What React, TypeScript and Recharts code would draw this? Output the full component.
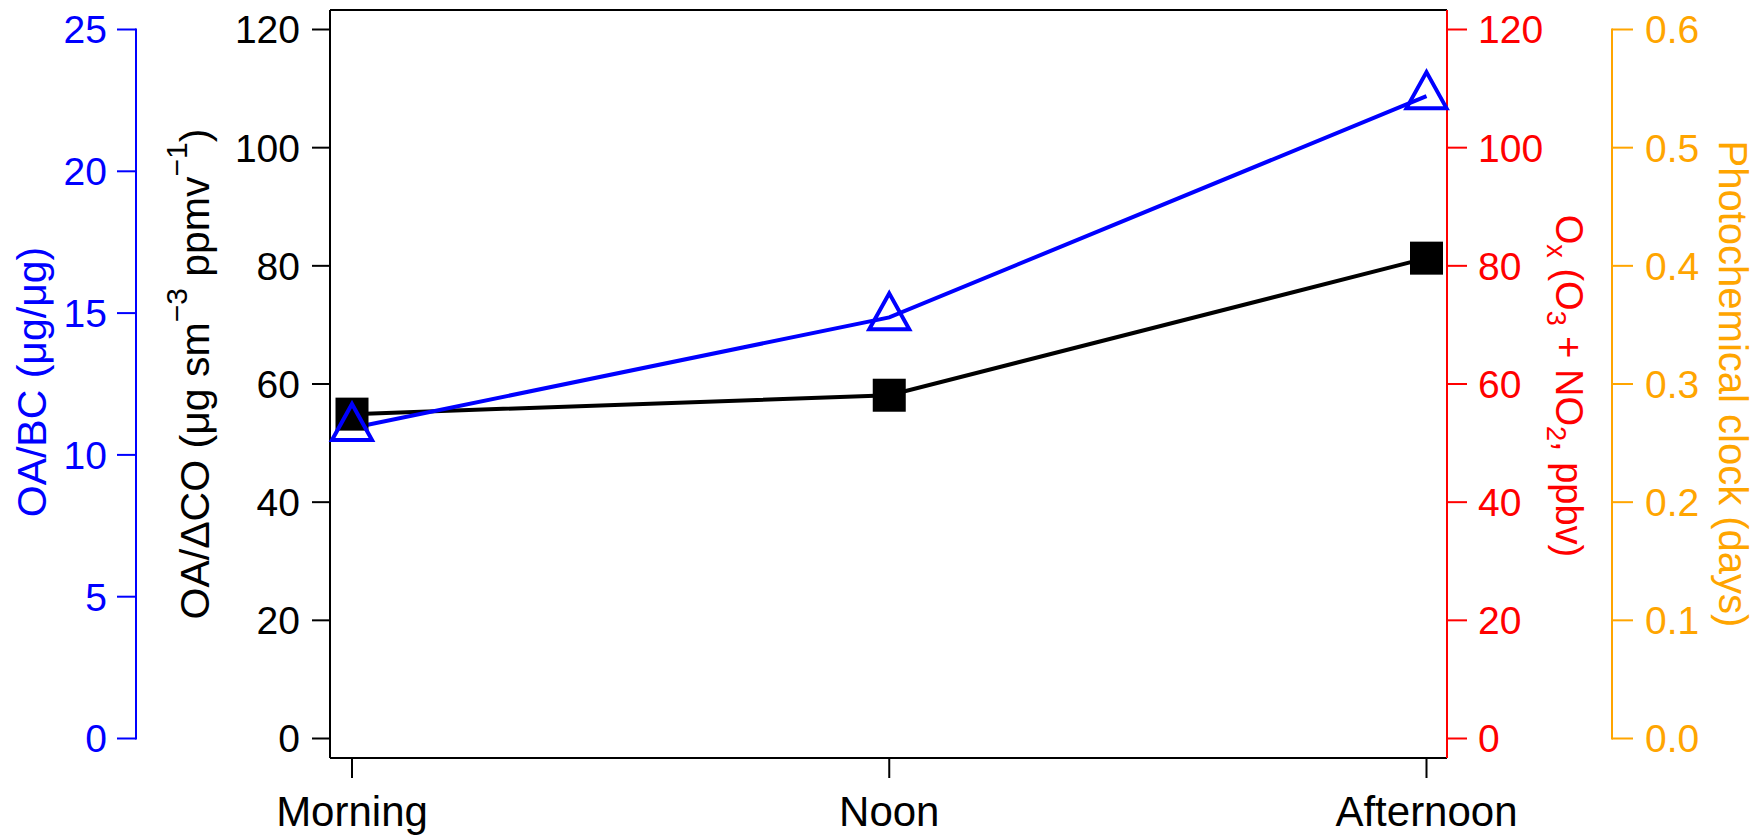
import React from 'react';
import { LineChart, Line, XAxis, YAxis } from 'recharts';

// ---- data ----
const categories = ['Morning', 'Noon', 'Afternoon'];
const oaDeltaCO = [54.9, 58.1, 81.3];      // left black axis (µg sm^-3 ppmv^-1)
const oaBC = [10.95, 14.85, 22.65];        // blue axis (µg/µg)
const leftTicks = [0, 20, 40, 60, 80, 100, 120];
const blueTicks = [0, 5, 10, 15, 20, 25];
const oxTicks = [0, 20, 40, 60, 80, 100, 120];
const clockTicks = [0, 0.1, 0.2, 0.3, 0.4, 0.5, 0.6];

const data = categories.map((c, i) => ({ cat: c, oaco: oaDeltaCO[i], oabc: oaBC[i] }));

// ---- style ----
const FONT = "'Liberation Sans', Arial, Helvetica, sans-serif";
const BLUE = '#0000ff';
const RED = '#ff0000';
const ORANGE = '#ffa500';
const BLACK = '#000000';
const W = 1759;
const H = 836;
const TOP_H = 10;
const X_H = 78;
const YPAD = 19.5;
const INNER = H - TOP_H - X_H - 2 * YPAD;
const TICK_FS = 39;

function SegTick(props: any) {
  const { x, y, payload, color, side, off, step, maxV, fmt } = props;
  const axisX = side === 'left' ? x + off : x - off;
  const v = payload.value;
  const label = fmt ? fmt(v) : String(v);
  return (
    <g>
      {v < maxV - 1e-9 ? (
        <line x1={axisX} y1={y + 1} x2={axisX} y2={y - step - 1} stroke={color} strokeWidth={2} />
      ) : null}
      <text
        x={x}
        y={y}
        dy="0.355em"
        textAnchor={side === 'left' ? 'end' : 'start'}
        fill={color}
        fontSize={TICK_FS}
        fontFamily={FONT}
      >
        {label}
      </text>
    </g>
  );
}

function BlackTitle(props: any) {
  const vb = props.viewBox;
  const cx = vb.x + 73;
  const cy = vb.y + vb.height / 2 - 10;
  return (
    <text x={cx} y={cy} transform={`rotate(-90, ${cx}, ${cy})`} textAnchor="middle" fontSize={41} fill={BLACK} fontFamily={FONT}>
      OA/ΔCO (μg sm<tspan dy={-22} fontSize={30}>−3</tspan>
      <tspan dy={22}> ppmv</tspan>
      <tspan dy={-22} fontSize={30}>−1</tspan>
      <tspan dy={22}>)</tspan>
    </text>
  );
}

function BlueTitle(props: any) {
  const vb = props.viewBox;
  const cx = vb.x + 46;
  const cy = vb.y + vb.height / 2 - 2;
  return (
    <text x={cx} y={cy} transform={`rotate(-90, ${cx}, ${cy})`} textAnchor="middle" fontSize={41} fill={BLUE} fontFamily={FONT}>
      OA/BC (μg/μg)
    </text>
  );
}

function RedTitle(props: any) {
  const vb = props.viewBox;
  const cx = vb.x + 109;
  const cy = vb.y + vb.height / 2 + 2;
  return (
    <text x={cx} y={cy} transform={`rotate(90, ${cx}, ${cy})`} textAnchor="middle" fontSize={38} fill={RED} fontFamily={FONT}>
      O<tspan dy={9} fontSize={27}>x</tspan>
      <tspan dy={-9}> (O</tspan>
      <tspan dy={9} fontSize={27}>3</tspan>
      <tspan dy={-9}> + NO</tspan>
      <tspan dy={9} fontSize={27}>2</tspan>
      <tspan dy={-9}>, ppbv)</tspan>
    </text>
  );
}

function OrangeTitle(props: any) {
  const vb = props.viewBox;
  const cx = vb.x + 107;
  const cy = vb.y + vb.height / 2;
  return (
    <text x={cx} y={cy} transform={`rotate(90, ${cx}, ${cy})`} textAnchor="middle" fontSize={40} fill={ORANGE} fontFamily={FONT}>
      Photochemical clock (days)
    </text>
  );
}

function SquareDot(p: any) {
  if (p.cx == null || p.cy == null) return <g key={`sq-${p.index}`} />;
  return <rect key={`sq-${p.index}`} x={p.cx - 16.5} y={p.cy - 16.5} width={33} height={33} fill={BLACK} />;
}

function TriangleDot(p: any) {
  if (p.cx == null || p.cy == null) return <g key={`tr-${p.index}`} />;
  const { cx, cy } = p;
  return (
    <path
      key={`tr-${p.index}`}
      d={`M${cx},${cy - 24} L${cx + 20},${cy + 12} L${cx - 20},${cy + 12} Z`}
      fill="none"
      stroke={BLUE}
      strokeWidth={4}
      strokeLinejoin="miter"
    />
  );
}

export default function App() {
  return (
    <div style={{ position: 'absolute', left: 0, top: 0, width: W, height: H, background: '#fff' }}>
      <LineChart width={W} height={H} data={data} margin={{ top: 0, right: 0, bottom: 0, left: 0 }}>
        <XAxis
          xAxisId="top"
          dataKey="cat"
          orientation="top"
          height={TOP_H}
          tick={false}
          tickLine={false}
          axisLine={{ stroke: BLACK, strokeWidth: 2 }}
          padding={{ left: 22, right: 20.5 }}
        />
        <XAxis
          dataKey="cat"
          height={X_H}
          tickSize={20}
          tickMargin={18}
          axisLine={{ stroke: BLACK, strokeWidth: 2 }}
          tickLine={{ stroke: BLACK, strokeWidth: 2 }}
          tick={{ fill: BLACK, fontSize: 42, fontFamily: FONT }}
          padding={{ left: 22, right: 20.5 }}
        />
        <YAxis
          yAxisId="b_blue"
          orientation="left"
          width={136}
          domain={[0, 25]}
          ticks={blueTicks}
          interval={0}
          padding={{ top: YPAD, bottom: YPAD }}
          tickSize={19}
          tickMargin={10}
          axisLine={false}
          tickLine={{ stroke: BLUE, strokeWidth: 2 }}
          tick={<SegTick color={BLUE} side="left" off={29} step={INNER / 5} maxV={25} />}
          label={<BlueTitle />}
        />
        <YAxis
          yAxisId="a_black"
          orientation="left"
          width={194}
          domain={[0, 120]}
          ticks={leftTicks}
          interval={0}
          padding={{ top: YPAD, bottom: YPAD }}
          tickSize={18}
          tickMargin={12}
          axisLine={{ stroke: BLACK, strokeWidth: 2 }}
          tickLine={{ stroke: BLACK, strokeWidth: 2 }}
          tick={{ fill: BLACK, fontSize: TICK_FS, fontFamily: FONT }}
          label={<BlackTitle />}
        />
        <YAxis
          yAxisId="b_orange"
          orientation="right"
          width={147}
          domain={[0, 0.6]}
          allowDataOverflow
          ticks={clockTicks}
          interval={0}
          padding={{ top: YPAD, bottom: YPAD }}
          tickSize={21}
          tickMargin={12}
          axisLine={false}
          tickLine={{ stroke: ORANGE, strokeWidth: 2 }}
          tick={<SegTick color={ORANGE} side="right" off={33} step={INNER / 6} maxV={0.6} fmt={(v: number) => v.toFixed(1)} />}
          label={<OrangeTitle />}
        />
        <YAxis
          yAxisId="a_red"
          orientation="right"
          width={165}
          domain={[0, 120]}
          allowDataOverflow
          ticks={oxTicks}
          interval={0}
          padding={{ top: YPAD, bottom: YPAD }}
          tickSize={20}
          tickMargin={11}
          axisLine={{ stroke: RED, strokeWidth: 2 }}
          tickLine={{ stroke: RED, strokeWidth: 2 }}
          tick={{ fill: RED, fontSize: TICK_FS, fontFamily: FONT }}
          label={<RedTitle />}
        />
        <Line yAxisId="b_orange" dataKey="clockNone" stroke="none" dot={false} activeDot={false} legendType="none" isAnimationActive={false} />
        <Line yAxisId="a_red" dataKey="oxNone" stroke="none" dot={false} activeDot={false} legendType="none" isAnimationActive={false} />
        <Line
          yAxisId="a_black"
          type="linear"
          dataKey="oaco"
          stroke={BLACK}
          strokeWidth={4}
          dot={SquareDot}
          activeDot={false}
          isAnimationActive={false}
        />
        <Line
          yAxisId="b_blue"
          type="linear"
          dataKey="oabc"
          stroke={BLUE}
          strokeWidth={4}
          dot={TriangleDot}
          activeDot={false}
          isAnimationActive={false}
        />
      </LineChart>
    </div>
  );
}
